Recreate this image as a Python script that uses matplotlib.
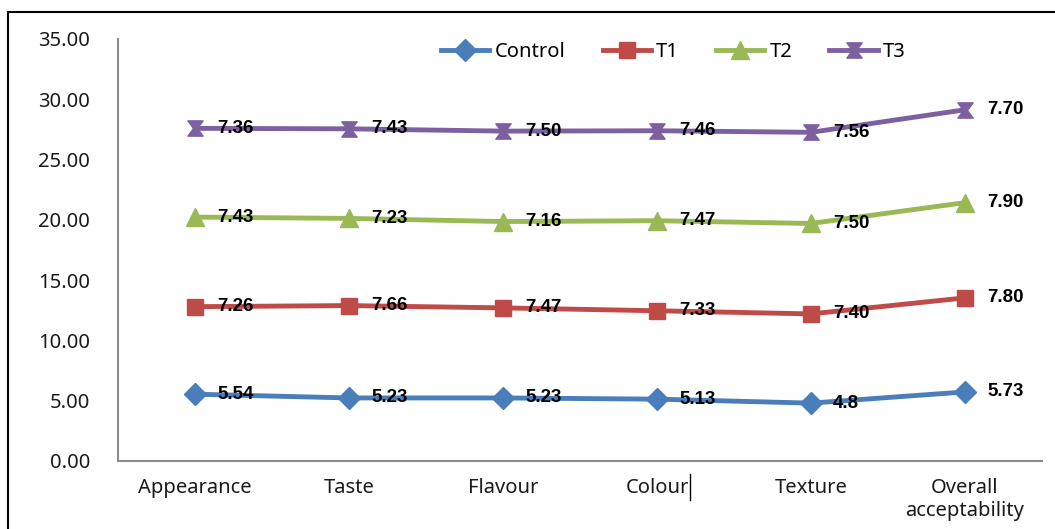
import matplotlib
matplotlib.use("Agg")
import matplotlib.pyplot as plt
from matplotlib.path import Path
from matplotlib.patches import Rectangle
from matplotlib.lines import Line2D
import numpy as np

plt.rcParams['font.family'] = ['Noto Sans', 'DejaVu Sans']

categories = ["Appearance", "Taste", "Flavour", "Colour", "Texture", "Overall\nacceptability"]
series_names = ["Control", "T1", "T2", "T3"]
control = [5.54, 5.23, 5.23, 5.13, 4.8, 5.73]
t1 = [7.26, 7.66, 7.47, 7.33, 7.40, 7.80]
t2 = [7.43, 7.23, 7.16, 7.47, 7.50, 7.90]
t3 = [7.36, 7.43, 7.50, 7.46, 7.56, 7.70]
label_text = [
    ["5.54", "5.23", "5.23", "5.13", "4.8", "5.73"],
    ["7.26", "7.66", "7.47", "7.33", "7.40", "7.80"],
    ["7.43", "7.23", "7.16", "7.47", "7.50", "7.90"],
    ["7.36", "7.43", "7.50", "7.46", "7.56", "7.70"],
]
y_ticks = [0, 5, 10, 15, 20, 25, 30, 35]

colors = ["#4A7EBB", "#BE4B48", "#98B954", "#7D60A0"]

# hourglass marker for the last series
hourglass = Path([(-1, 1), (1, 1), (0.25, 0), (1, -1), (-1, -1), (-0.25, 0), (-1, 1)],
                 [Path.MOVETO] + [Path.LINETO] * 5 + [Path.CLOSEPOLY])
markers = [("D", 11), ("s", 12), ("^", 13), (hourglass, 11)]

fig = plt.figure(figsize=(10.55, 5.29), dpi=100)
ax = fig.add_axes([118 / 1055, 1 - 461 / 529, 924 / 1055, 422 / 529])

# outer chart frame
fig.patches.append(Rectangle((8 / 1055, -0.1), 1.2, (529 - 12) / 529 + 0.1,
                             transform=fig.transFigure, fill=False,
                             edgecolor="black", linewidth=1.5))

x = np.arange(len(categories)) + 0.5
cum = np.zeros(len(categories))
handles = []
for i, vals in enumerate([control, t1, t2, t3]):
    cum = cum + np.array(vals)
    m, ms = markers[i]
    ln, = ax.plot(x, cum, color=colors[i], lw=3.5, marker=m, markersize=ms,
                  markeredgecolor=colors[i], label=series_names[i], zorder=3)
    handles.append(ln)
    for j in range(len(categories)):
        ax.annotate(label_text[i][j], (x[j], cum[j]), xytext=(16, 0),
                    textcoords="offset points", ha="left", va="center",
                    fontsize=13.5, fontweight="bold",
                    family=["Liberation Sans", "DejaVu Sans"],
                    color="black", zorder=4)

ax.set_xlim(0, 6)
ax.set_ylim(0, 35)
ax.set_yticks(y_ticks)
ax.set_yticklabels([f"{v:.2f}" for v in y_ticks])
ax.set_xticks(x)
ax.set_xticklabels(categories, linespacing=1.25)
ax.tick_params(axis="both", length=0, labelsize=14.5, colors="#1a1a1a")
ax.tick_params(axis="y", pad=20)
ax.tick_params(axis="x", pad=12)
for s in ["top", "right"]:
    ax.spines[s].set_visible(False)
for s in ["left", "bottom"]:
    ax.spines[s].set_color("#8c8c8c")
    ax.spines[s].set_linewidth(1.5)

# text cursor mark after "Colour"
fig.add_artist(Line2D([690 / 1055, 690 / 1055], [1 - 500 / 529, 1 - 474 / 529],
                      color="black", lw=1, transform=fig.transFigure))

leg = ax.legend(handles=handles, loc="upper left", bbox_to_anchor=(423 / 1055, 1 - 24 / 529),
                bbox_transform=fig.transFigure, ncol=4, frameon=False, fontsize=14.5,
                handlelength=2.4, columnspacing=1.85, handletextpad=0.25)

fig.savefig("out.png", dpi=100)
